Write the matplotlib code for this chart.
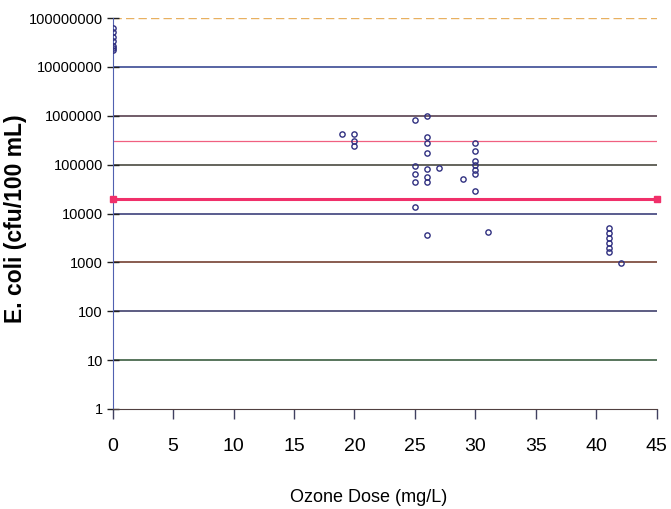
import numpy as np
import matplotlib
matplotlib.use("Agg")
import matplotlib.pyplot as plt
from matplotlib import font_manager

# --- data ---
dose = (
    [0, 0, 0, 0, 0, 0, 0]
    + [19, 20, 20, 20]
    + [25, 25, 25, 25, 25]
    + [26, 26, 26, 26, 26, 26, 26, 26]
    + [27, 29]
    + [30, 30, 30, 30, 30, 30, 30]
    + [31]
    + [41, 41, 41, 41, 41, 41]
    + [42]
)
ecoli = (
    [6.2e7, 5.1e7, 4.1e7, 3.4e7, 2.7e7, 2.4e7, 2.2e7]
    + [4.3e5, 4.3e5, 3.0e5, 2.4e5]
    + [8.1e5, 9.3e4, 6.4e4, 4.4e4, 1.35e4]
    + [1.0e6, 3.6e5, 2.8e5, 1.7e5, 8.1e4, 5.5e4, 4.4e4, 3.6e3]
    + [8.5e4, 5.0e4]
    + [2.8e5, 1.9e5, 1.2e5, 9.8e4, 7.8e4, 6.4e4, 2.9e4]
    + [4.2e3]
    + [5000, 4000, 3200, 2500, 2000, 1600]
    + [950]
)

limit_x = [0, 45]
limit_y = [2.0e4, 2.0e4]     # red limit line
upper_limit = 3.0e5          # thin pink line

y_ticks = [1, 10, 100, 1000, 1e4, 1e5, 1e6, 1e7, 1e8]
y_labels = ["1", "10", "100", "1000", "10000", "100000", "1000000",
            "10000000", "100000000"]
x_ticks = [0, 5, 10, 15, 20, 25, 30, 35, 40, 45]


def pick_font(names):
    avail = {f.name for f in font_manager.fontManager.ttflist}
    for n in names:
        if n in avail:
            return n
    return "DejaVu Sans"


def main():
    narrow = pick_font(["Liberation Sans Narrow", "Liberation Sans", "DejaVu Sans"])
    bold = pick_font(["Liberation Sans", "DejaVu Sans"])

    fig = plt.figure(figsize=(6.71, 5.09), dpi=100)
    ax = fig.add_axes([0.1677, 0.1965, 0.8113, 0.7681])

    ax.set_yscale("log")
    ax.set_ylim(1, 1e8)
    ax.set_xlim(0, 45)

    # decade gridlines, scan-like colours
    grid_cols = ["#503030", "#2a5030", "#303060", "#6a3020", "#2c3070",
                 "#3a3a30", "#4a3040", "#2a3a8a"]
    for v, c in zip(y_ticks[1:-1], grid_cols[1:]):
        ax.axhline(v, color=c, lw=1.1, zorder=1)
    ax.axhline(1e8, color="#e8b060", lw=1.0, ls=(0, (6, 3)), zorder=1)

    ax.axhline(upper_limit, color="#f06080", lw=0.9, zorder=1)
    ax.plot(limit_x, limit_y, color="#f0306a", lw=2.2, marker="s", ms=5,
            clip_on=False, zorder=3)

    ax.plot(dose, ecoli, ls="none", marker="o", ms=3.8, mfc="none",
            mec="#303080", mew=1.0, zorder=4)

    for s in ["top", "right"]:
        ax.spines[s].set_visible(False)
    ax.spines["left"].set_color("#5060b0")
    ax.spines["bottom"].set_color("#504040")

    ax.set_yticks(y_ticks)
    ax.set_yticklabels(y_labels)
    ax.yaxis.set_minor_locator(matplotlib.ticker.NullLocator())
    ax.set_xticks(x_ticks)
    ax.set_xticklabels([str(t) for t in x_ticks])

    ax.tick_params(axis="y", direction="inout", length=8, width=1,
                   color="#202020", labelsize=10.5, pad=3)
    ax.tick_params(axis="x", direction="out", length=7, width=1,
                   color="#404060", labelsize=14, pad=14)
    for lab in ax.get_yticklabels() + ax.get_xticklabels():
        lab.set_fontfamily(narrow)

    ax.set_xlabel("Ozone Dose (mg/L)", fontsize=13, fontfamily=narrow)
    ax.xaxis.set_label_coords(0.47, -0.205)
    ax.set_ylabel("E. coli (cfu/100 mL)", fontsize=16.5, fontweight="bold",
                  fontfamily=bold)
    ax.yaxis.set_label_coords(-0.157, 0.486)

    fig.savefig("out.png", dpi=100)
    plt.close(fig)


if __name__ == "__main__":
    main()
